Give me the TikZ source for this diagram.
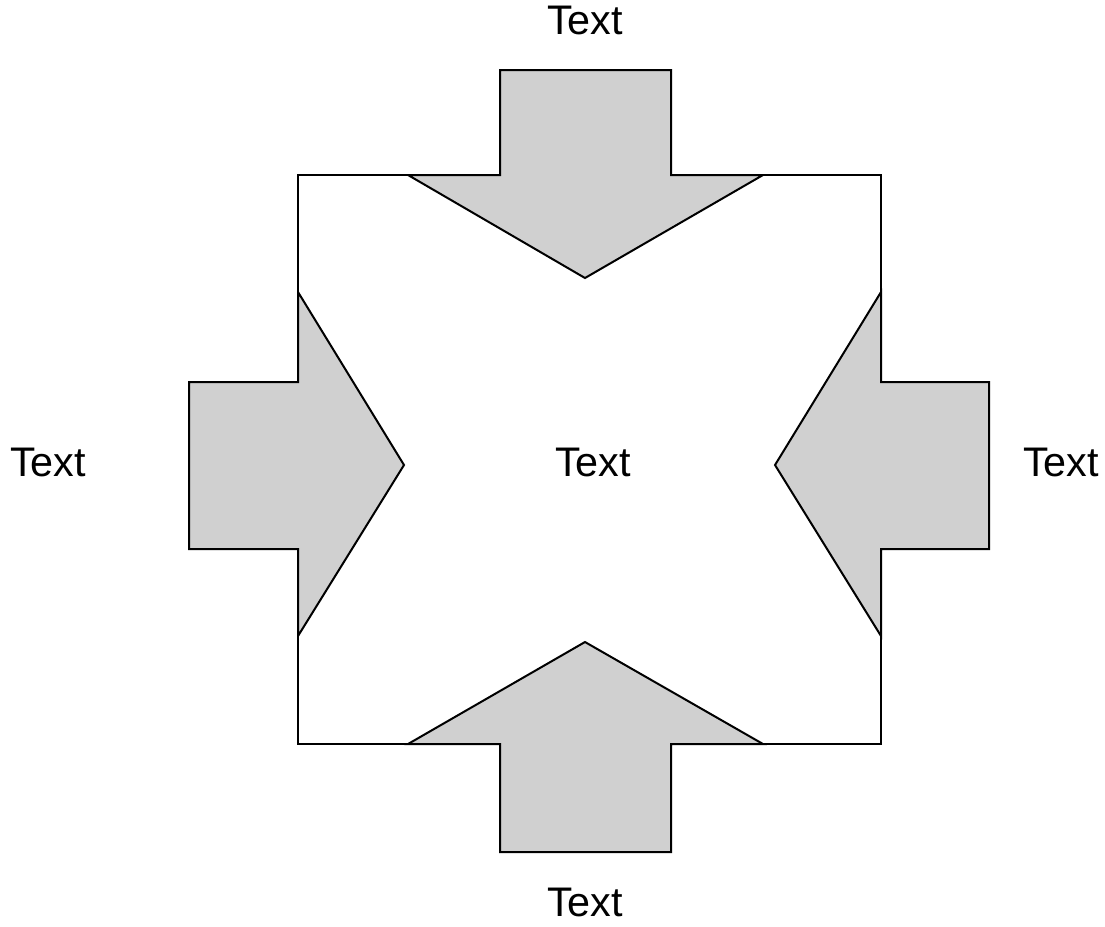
\documentclass[tikz,border=0pt]{standalone}
\usepackage{fontspec}
\setmainfont{Liberation Sans}
\definecolor{arrowgray}{HTML}{D0D0D0}
\begin{document}
\begin{tikzpicture}[x=0.75pt,y=-0.75pt,
  frame/.style={draw=black,line width=1.5pt,fill=white,line join=miter},
  inarrow/.style={draw=black,line width=1.5pt,fill=arrowgray,line join=miter},
  lbl/.style={font=\fontsize{31}{36}\selectfont,inner sep=0pt}]
\useasboundingbox (0,0) rectangle (1105,926);
% square
\draw[frame] (298,175) rectangle (881,744);
% top arrow
\draw[inarrow] (500,70) -- (671,70) -- (671,175) -- (763,175) -- (585,278) -- (408,175) -- (500,175) -- cycle;
% bottom arrow
\draw[inarrow] (500,852) -- (671,852) -- (671,744) -- (763,744) -- (585,642) -- (408,744) -- (500,744) -- cycle;
% left arrow
\draw[inarrow] (189,382) -- (189,549) -- (298,549) -- (298,636) -- (404,465) -- (298,292) -- (298,382) -- cycle;
% right arrow
\draw[inarrow] (989,382) -- (989,549) -- (881,549) -- (881,636) -- (775,465) -- (881,292) -- (881,382) -- cycle;
% labels
\node[lbl] (ttop) at (585,20) {Text};
\node[lbl] (tbot) at (585,902) {Text};
\node[lbl] (tleft) at (48,462) {Text};
\node[lbl] (tright) at (1061,462) {Text};
\node[lbl] (tcenter) at (593,462) {Text};
\end{tikzpicture}
\end{document}
